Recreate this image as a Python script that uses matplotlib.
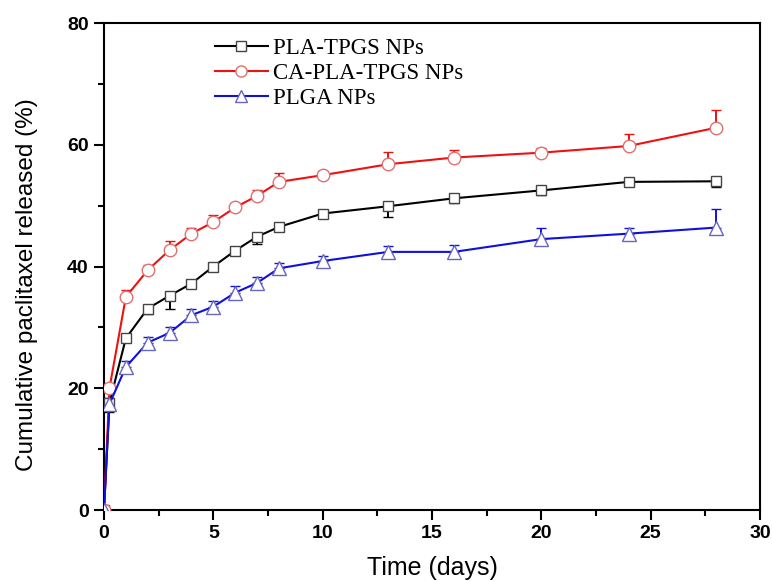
import matplotlib.pyplot as plt
from matplotlib.lines import Line2D
from matplotlib.ticker import MultipleLocator

# waktu pengambilan sampel (hari)
days = [0, 0.25, 1, 2, 3, 4, 5, 6, 7, 8, 10, 13, 16, 20, 24, 28]

pla_tpgs = [0, 17.6, 28.2, 33.1, 35.2, 37.2, 40.0, 42.6, 44.9, 46.5, 48.7, 49.9, 51.2, 52.5, 53.9, 54.0]
pla_tpgs_err = [0, 1.5, 0.6, 0.9, 2.1, 0.5, 0.8, 0.7, 1.2, 0.6, 0.7, 1.7, 0.8, 0.7, 0.7, 0.9]

ca_pla_tpgs = [0, 20.0, 35.0, 39.4, 42.7, 45.4, 47.3, 49.7, 51.6, 53.9, 55.0, 56.8, 57.9, 58.7, 59.8, 62.8]
ca_pla_tpgs_err = [0, 0.5, 1.1, 0.8, 1.5, 0.9, 1.1, 0.8, 0.9, 1.5, 0.7, 2.0, 1.3, 0.8, 1.9, 2.9]

plga = [0, 17.4, 23.5, 27.5, 29.1, 32.0, 33.4, 35.7, 37.3, 39.7, 40.9, 42.4, 42.4, 44.5, 45.4, 46.4]
plga_err = [0, 1.0, 1.0, 0.9, 1.0, 1.0, 0.9, 1.1, 0.9, 0.9, 0.8, 0.9, 1.1, 1.8, 1.0, 3.0]

labels = ['PLA-TPGS NPs', 'CA-PLA-TPGS NPs', 'PLGA NPs']
zeros = [0] * len(days)

fig = plt.figure(figsize=(7.72, 5.81), dpi=100)
ax = fig.add_axes([0.1347, 0.1222, 0.8497, 0.8382])

# hitam: error bar ke bawah, merah & biru: ke atas
ax.errorbar(days, pla_tpgs, yerr=[pla_tpgs_err, zeros], color='black', lw=1.5,
            marker='s', ms=7.5, mfc='white', mec='#444444', mew=1.0,
            ecolor='black', elinewidth=1.4, capsize=3.5, capthick=1.4, zorder=3)
ax.errorbar(days, ca_pla_tpgs, yerr=[zeros, ca_pla_tpgs_err], color='#ee1111', lw=1.5,
            marker='o', ms=9, mfc='white', mec='#e07070', mew=1.0,
            ecolor='#ee1111', elinewidth=1.4, capsize=3.5, capthick=1.4, zorder=3)
ax.errorbar(days, plga, yerr=[zeros, plga_err], color='#1010dd', lw=1.5,
            marker='^', ms=9.5, mfc='white', mec='#6666c0', mew=1.0,
            ecolor='#1010dd', elinewidth=1.4, capsize=3.5, capthick=1.4, zorder=3)

ax.set_xlim(0, 30)
ax.set_ylim(0, 80)
ax.xaxis.set_major_locator(MultipleLocator(5))
ax.xaxis.set_minor_locator(MultipleLocator(2.5))
ax.yaxis.set_major_locator(MultipleLocator(20))
ax.yaxis.set_minor_locator(MultipleLocator(10))
ax.tick_params(which='major', direction='out', length=7, width=1.5, labelsize=14, pad=4)
ax.tick_params(which='minor', direction='out', length=4, width=1.5)
for lab in ax.get_xticklabels() + ax.get_yticklabels():
    lab.set_fontweight('bold')
    lab.set_family('Liberation Sans')
for sp in ax.spines.values():
    sp.set_linewidth(1.5)

ax.set_xlabel('Time (days)', fontsize=18, family='Liberation Sans')
ax.set_ylabel('Cumulative paclitaxel released (%)', fontsize=17.5, family='Liberation Sans')
ax.xaxis.set_label_coords(0.5, -0.094)
ax.yaxis.set_label_coords(-0.100, 0.462)

handles = [
    Line2D([], [], color='black', lw=1.5, marker='s', ms=6.5, mfc='white', mec='#444444', mew=1.0),
    Line2D([], [], color='#ee1111', lw=1.5, marker='o', ms=8, mfc='white', mec='#e07070', mew=1.0),
    Line2D([], [], color='#1010dd', lw=1.5, marker='^', ms=8, mfc='white', mec='#6666c0', mew=1.0),
]
ax.legend(handles, labels, loc='upper left', bbox_to_anchor=(0.169, 0.97), frameon=False,
          prop={'family': 'Liberation Serif', 'size': 16.5}, handlelength=2.3,
          labelspacing=0.17, handletextpad=0.22, borderpad=0, borderaxespad=0)

fig.savefig('out.png', dpi=100)
